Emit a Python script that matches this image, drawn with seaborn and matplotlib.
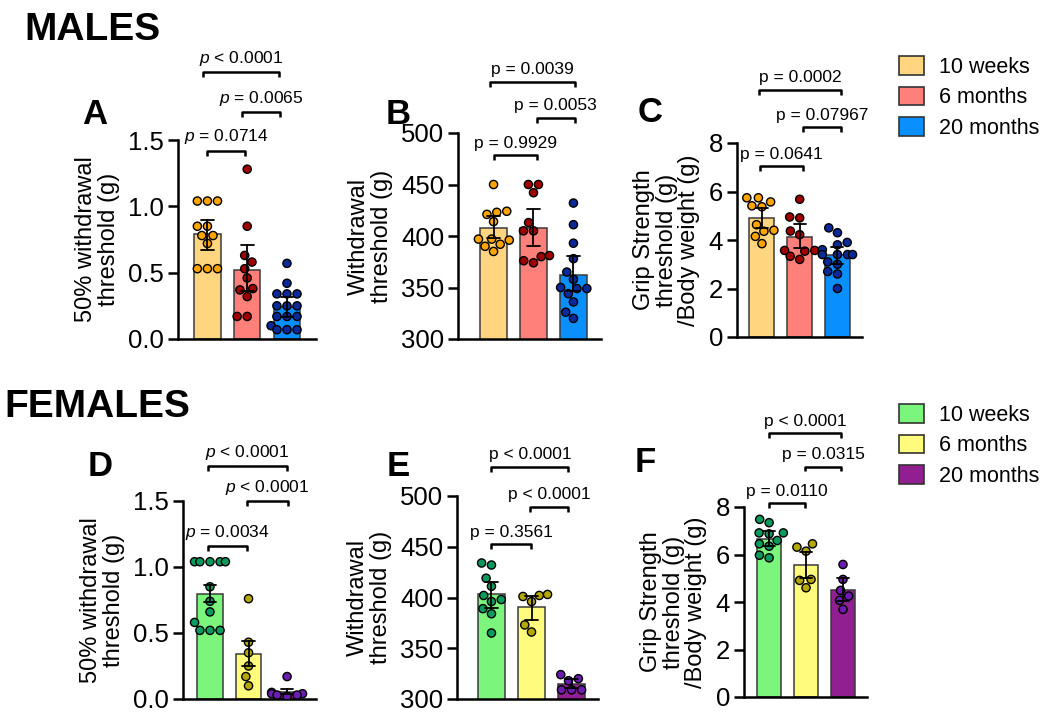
import matplotlib
matplotlib.use('Agg')
import matplotlib.pyplot as plt
import seaborn as sns
import pandas as pd
from matplotlib.patches import Patch

# ─── Data ─────────────────────────────────────────────────────────────────────
groups = ["10 weeks", "6 months", "20 months"]

# males
A_10w = [1.04, 1.04, 1.04, 0.85, 0.85, 0.78, 0.78, 0.72, 0.53, 0.53, 0.53]
A_6m = [1.28, 0.85, 0.63, 0.58, 0.53, 0.46, 0.38, 0.37, 0.32, 0.17, 0.17]
A_20m = [0.57, 0.42, 0.34, 0.34, 0.34, 0.25, 0.25, 0.25, 0.17, 0.17, 0.17,
         0.10, 0.07, 0.07, 0.07]

B_10w = [450, 424, 423, 421, 414, 397, 397, 396, 392, 390, 385]
B_6m = [450, 450, 442, 413, 405, 405, 381, 380, 376, 374]
B_20m = [432, 411, 393, 378, 365, 358, 350, 349, 349, 344, 336, 326, 320]

C_10w = [5.74, 5.74, 5.57, 5.41, 5.37, 4.63, 4.40, 4.36, 4.15, 3.85]
C_6m = [5.68, 4.95, 4.91, 4.37, 4.22, 3.57, 3.57, 3.54, 3.33, 3.20]
C_20m = [4.5, 4.3, 3.9, 3.8, 3.6, 3.4, 3.4, 3.4, 3.4, 3.1, 3.0, 2.7, 2.6, 2.0]

# females
D_10w = [1.04, 1.04, 1.04, 1.04, 1.04, 0.85, 0.74, 0.66, 0.58, 0.52, 0.52, 0.52]
D_6m = [0.76, 0.43, 0.35, 0.25, 0.17, 0.10]
D_20m = [0.17, 0.05, 0.04, 0.04, 0.03, 0.03, 0.02]

E_10w = [434, 432, 419, 411, 402, 398, 396, 389, 384, 365]
E_6m = [403, 402, 401, 396, 373, 366]
E_20m = [324, 320, 318, 309, 309, 309]

F_10w = [7.48, 7.34, 6.91, 6.91, 6.87, 6.59, 6.45, 6.35, 5.97, 5.86]
F_6m = [6.45, 6.31, 6.14, 4.95, 4.91, 4.60]
F_20m = [5.58, 4.95, 4.49, 4.25, 4.07, 3.69]

# p-value labels: (10w vs 6m, 6m vs 20m, 10w vs 20m)
A_p = ["0.0714", "0.0065", "< 0.0001"]
B_p = ["0.9929", "0.0053", "0.0039"]
C_p = ["0.0641", "0.07967", "0.0002"]
D_p = ["0.0034", "< 0.0001", "< 0.0001"]
E_p = ["0.3561", "< 0.0001", "< 0.0001"]
F_p = ["0.0110", "0.0315", "< 0.0001"]

# ─── Colours ──────────────────────────────────────────────────────────────────
male_bar = ["#FFD580", "#FF7F7B", "#0A8FFF"]
male_dot = ["#FFA500", "#A00000", "#0A2A9A"]
fem_bar = ["#7CF57C", "#FFFB7D", "#921F91"]
fem_dot = ["#0A9A5E", "#B5A800", "#6A1DB0"]

# ─── Style ────────────────────────────────────────────────────────────────────
sns.set_style("ticks")
plt.rcParams['font.family'] = ['Liberation Sans', 'DejaVu Sans']
plt.rcParams['mathtext.fontset'] = 'custom'
plt.rcParams['mathtext.rm'] = 'Liberation Sans'
plt.rcParams['mathtext.it'] = 'Liberation Sans:italic'
for k in ['text.color', 'axes.labelcolor', 'xtick.color', 'ytick.color', 'axes.edgecolor']:
    plt.rcParams[k] = 'black'

W, H = 1050, 714
fig = plt.figure(figsize=(W / 100, H / 100), dpi=100)


def px_axes(left, right, top, bottom):
    return fig.add_axes([left / W, 1 - bottom / H, (right - left) / W, (bottom - top) / H])


def fmt_p(s, italic):
    if not s.startswith("<"):
        s = "= " + s
    return (r"$\mathit{p}$ " if italic else "p ") + s


def draw_panel(ax, series, bar_cols, dot_cols, ylim, ticks, ticklabels, ylabel,
               xlim, brackets, pvals, italic, errbar):
    df = pd.DataFrame({
        "group": sum([[g] * len(v) for g, v in zip(groups, series)], []),
        "value": sum([list(v) for v in series], []),
    })
    sns.barplot(data=df, x="group", y="value", hue="group", order=groups,
                hue_order=groups, palette=bar_cols, width=0.66, saturation=1,
                errorbar=errbar, seed=1, n_boot=2000, capsize=0.32,
                err_kws={"color": "black", "linewidth": 1.3},
                edgecolor="#3a3a3a", linewidth=1.1, legend=False, ax=ax)
    for ln in ax.lines:
        ln.set_zorder(6)
    sns.swarmplot(data=df, x="group", y="value", hue="group", order=groups,
                  hue_order=groups, palette=dot_cols, size=5.9,
                  edgecolor="black", linewidth=1.0, legend=False, ax=ax, zorder=4)

    ax.set_ylim(*ylim)
    ax.set_xlim(*xlim)
    ax.set_yticks(ticks)
    ax.set_yticklabels(ticklabels)
    ax.set_xticks([])
    ax.set_xlabel("")
    ax.set_ylabel(ylabel, fontsize=17, linespacing=1.05, labelpad=6)
    ax.tick_params(axis='y', labelsize=18.5, width=1.8, length=7, pad=3)
    sns.despine(ax=ax)
    for sp in ["left", "bottom"]:
        ax.spines[sp].set_linewidth(1.8)

    d = 0.025 * (ylim[1] - ylim[0])
    for (x1, x2, y), p in zip(brackets, pvals):
        ax.plot([x1, x1, x2, x2], [y - d, y, y, y - d], color="black",
                lw=1.8, clip_on=False, solid_capstyle="butt")
        ax.annotate(fmt_p(p, italic), xy=((x1 + x2) / 2, y), xytext=(0, 3),
                    textcoords="offset points", ha="center", va="bottom",
                    fontsize=12.5, annotation_clip=False)


# ─── Panels ───────────────────────────────────────────────────────────────────
lab_wd = "50% withdrawal\nthreshold (g)"
lab_w = "Withdrawal\nthreshold (g)"
lab_g = "Grip Strength\nthreshold (g)\n/Body weight (g)"
t_a = [0, 0.5, 1.0, 1.5]
tl_a = ["0.0", "0.5", "1.0", "1.5"]
t_b = [300, 350, 400, 450, 500]
t_c = [0, 2, 4, 6, 8]

axA = px_axes(178, 316, 140, 339)
draw_panel(axA, [A_10w, A_6m, A_20m], male_bar, male_dot, (0, 1.5), t_a, tl_a,
           lab_wd, (-0.74, 2.73),
           [(0, 0.95, 1.42), (0.87, 1.82, 1.71), (-0.1, 1.8, 2.01)],
           A_p, True, ("ci", 95))

axB = px_axes(458, 601, 133, 339)
draw_panel(axB, [B_10w, B_6m, B_20m], male_bar, male_dot, (300, 500), t_b, t_b,
           lab_w, (-0.89, 2.69),
           [(0, 1.08, 478.6), (1.08, 2.04, 515), (-0.1, 2.04, 550)],
           B_p, False, ("ci", 95))

axC = px_axes(737, 862, 143, 337)
draw_panel(axC, [C_10w, C_6m, C_20m], male_bar, male_dot, (0, 8), t_c, t_c,
           lab_g, (-0.66, 2.65),
           [(-0.05, 1.1, 7.05), (1.1, 2.09, 8.67), (-0.08, 2.09, 10.2)],
           C_p, False, ("ci", 95))

axD = px_axes(183, 316, 501, 699)
draw_panel(axD, [D_10w, D_6m, D_20m], fem_bar, fem_dot, (0, 1.5), t_a, tl_a,
           lab_wd, (-0.70, 2.75),
           [(-0.06, 0.95, 1.16), (0.95, 2.03, 1.5), (-0.06, 2.0, 1.765)],
           D_p, True, "se")

axE = px_axes(457, 598, 496, 699)
draw_panel(axE, [E_10w, E_6m, E_20m], fem_bar, fem_dot, (300, 500), t_b, t_b,
           lab_w, (-0.86, 2.66),
           [(0, 0.99, 452.4), (0.95, 1.92, 489.5), (0, 1.92, 528.9)],
           E_p, False, ("ci", 95))

axF = px_axes(744, 867, 507, 697)
draw_panel(axF, [F_10w, F_6m, F_20m], fem_bar, fem_dot, (0, 8), t_c, t_c,
           lab_g, (-0.68, 2.65),
           [(0, 0.98, 8.16), (0.98, 1.94, 9.7), (0, 1.94, 11.1)],
           F_p, False, ("ci", 95))

# ─── Titles, panel letters, legends ───────────────────────────────────────────
fig.text(24 / W, 1 - 30 / H, "MALES", fontsize=28, fontweight="bold", va="center")
fig.text(4 / W, 1 - 407 / H, "FEMALES", fontsize=28, fontweight="bold", va="center")

letters = [("A", 95, 114), ("B", 398, 114), ("C", 650, 112),
           ("D", 100, 467), ("E", 398, 467), ("F", 645, 462)]
for s, x, y in letters:
    fig.text(x / W, 1 - y / H, s, fontsize=25, fontweight="bold",
             ha="center", va="center")

for cols, top in [(male_bar, 56), (fem_bar, 404)]:
    handles = [Patch(facecolor=c, edgecolor="#333333", linewidth=1.2) for c in cols]
    fig.legend(handles, groups, loc="upper left", bbox_to_anchor=(899 / W, 1 - top / H),
               frameon=False, fontsize=15.5, handlelength=1.15, handleheight=0.95,
               handletextpad=0.7, labelspacing=0.42, borderpad=0, borderaxespad=0)

fig.savefig("out.png", dpi=100)
